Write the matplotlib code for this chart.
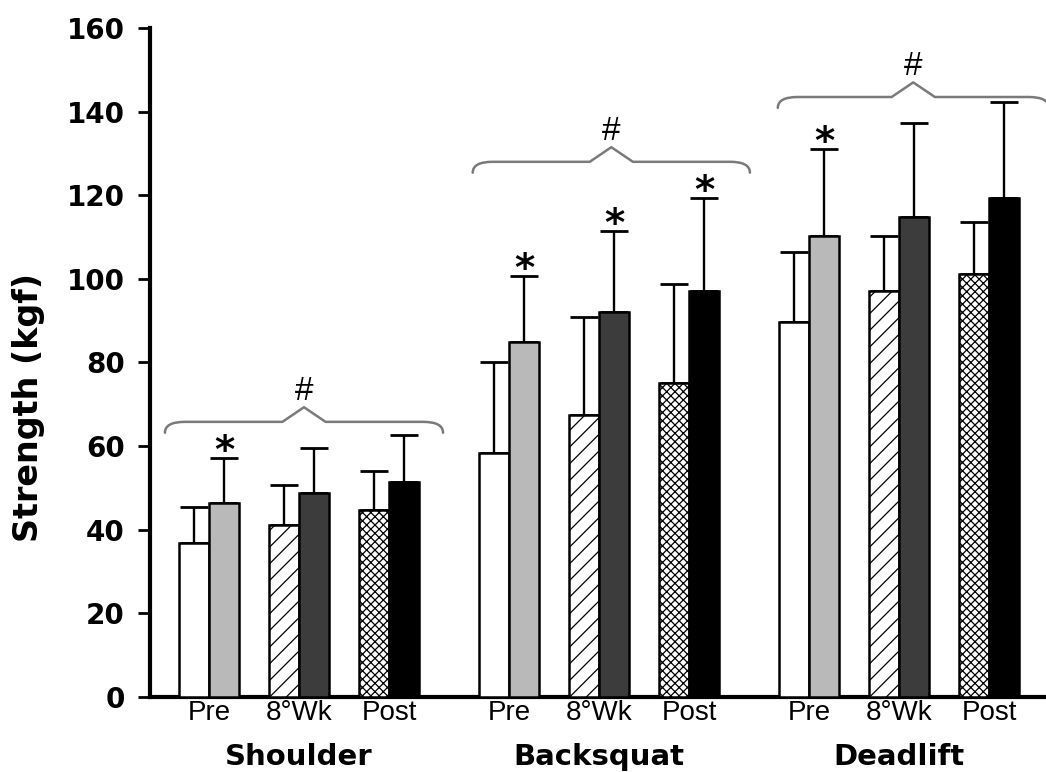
import numpy as np
import matplotlib.pyplot as plt
from matplotlib.path import Path
from matplotlib.patches import PathPatch
import matplotlib.transforms as mtransforms

# ── Data ──────────────────────────────────────────────────────────────────
groups = ["Shoulder", "Backsquat", "Deadlift"]
timepoints = ["Pre", "8°Wk", "Post"]

# left bar of each pair
left_mean = [36.9, 41.1, 44.7, 58.3, 67.5, 75.0, 89.8, 97.0, 101.1]
left_sd = [8.5, 9.6, 9.4, 21.9, 23.3, 23.7, 16.6, 13.3, 12.4]
# right bar of each pair
right_mean = [46.5, 48.9, 51.5, 84.9, 92.0, 97.1, 110.3, 114.9, 119.4]
right_sd = [10.7, 10.7, 11.2, 15.7, 19.5, 22.2, 20.8, 22.5, 22.8]
# asterisk over the right bar
star = [True, False, False, True, True, True, True, False, False]

# brace over each group: left end, right end, level (kgf)
brace_x0 = [-0.49, 2.93, 6.32]
brace_x1 = [2.60, 6.01, 9.33]
brace_y = [65.8, 128.0, 143.5]

# ── Style ─────────────────────────────────────────────────────────────────
left_face = ["white", "white", "white"]
left_hatch = [None, "//", "xxxx"]
right_face = ["#b9b9b9", "#3c3c3c", "black"]
plt.rcParams["hatch.linewidth"] = 0.9

fig = plt.figure(figsize=(10.46, 7.72), dpi=100)
ax = fig.add_axes([0.1434, 0.0972, 0.8566, 0.8665])

group_step = 10 / 3
w = 1 / 3
pair_x = np.array([g * group_step + t for g in range(3) for t in range(3)])

for i, x in enumerate(pair_x):
    t = i % 3
    ax.bar(x - w / 2, left_mean[i], w, color=left_face[t], hatch=left_hatch[t],
           edgecolor="black", linewidth=1.8, zorder=3)
    ax.bar(x + w / 2, right_mean[i], w, color=right_face[t],
           edgecolor="black", linewidth=1.8, zorder=3)

ax.errorbar(pair_x - w / 2, left_mean, yerr=[np.zeros(9), left_sd], fmt="none",
            ecolor="black", elinewidth=1.7, capsize=10, capthick=2, zorder=2)
ax.errorbar(pair_x + w / 2, right_mean, yerr=[np.zeros(9), right_sd], fmt="none",
            ecolor="black", elinewidth=1.7, capsize=10, capthick=2, zorder=2)

for i, x in enumerate(pair_x):
    if star[i]:
        ax.text(x + w / 2, right_mean[i] + right_sd[i] - 1.2, "*", ha="center",
                va="baseline", fontsize=28, fontweight="bold", family="DejaVu Sans")


def draw_brace(ax, x0, x1, y, drop=2.6, rise=3.5, curl=0.22, bump=0.24):
    xm = (x0 + x1) / 2
    verts = [(x0, y - drop), (x0, y), (x0 + curl, y),
             (xm - bump, y), (xm, y + rise), (xm + bump, y),
             (x1 - curl, y), (x1, y), (x1, y - drop)]
    codes = [Path.MOVETO, Path.CURVE3, Path.CURVE3,
             Path.LINETO, Path.LINETO, Path.LINETO,
             Path.LINETO, Path.CURVE3, Path.CURVE3]
    ax.add_patch(PathPatch(Path(verts, codes), facecolor="none", edgecolor="#7a7a7a",
                           linewidth=1.8, joinstyle="round", capstyle="round",
                           clip_on=False))
    ax.text(xm, y + rise + 1.8, "#", ha="center", va="baseline", fontsize=24,
            family="Liberation Sans", color="black", clip_on=False)


for g in range(3):
    draw_brace(ax, brace_x0[g], brace_x1[g], brace_y[g])

# ── Axes ──────────────────────────────────────────────────────────────────
ax.set_xlim(-0.656, 9.3)
ax.set_ylim(0, 160)
ax.set_yticks(np.arange(0, 161, 20))
for s in ["top", "right"]:
    ax.spines[s].set_visible(False)
for s in ["left", "bottom"]:
    ax.spines[s].set_linewidth(3)
ax.tick_params(axis="y", length=9, width=2, pad=9, labelsize=20)
for lab in ax.get_yticklabels():
    lab.set_fontweight("bold")
    lab.set_family("DejaVu Sans")

ax.set_xticks(pair_x)
ax.set_xticklabels(timepoints * 3, fontsize=20, family="Liberation Sans")
ax.tick_params(axis="x", length=0, pad=2)

trans = mtransforms.blended_transform_factory(ax.transData, ax.transAxes)
for g, name in enumerate(groups):
    ax.text(g * group_step + 1, -0.1016, name, transform=trans, ha="center",
            va="baseline", fontsize=21, fontweight="bold", family="DejaVu Sans")

ax.set_ylabel("Strength (kgf)", fontsize=24, fontweight="bold", family="DejaVu Sans")
ax.yaxis.set_label_coords(-0.117, 0.433)

plt.savefig("out.png", dpi=100)
